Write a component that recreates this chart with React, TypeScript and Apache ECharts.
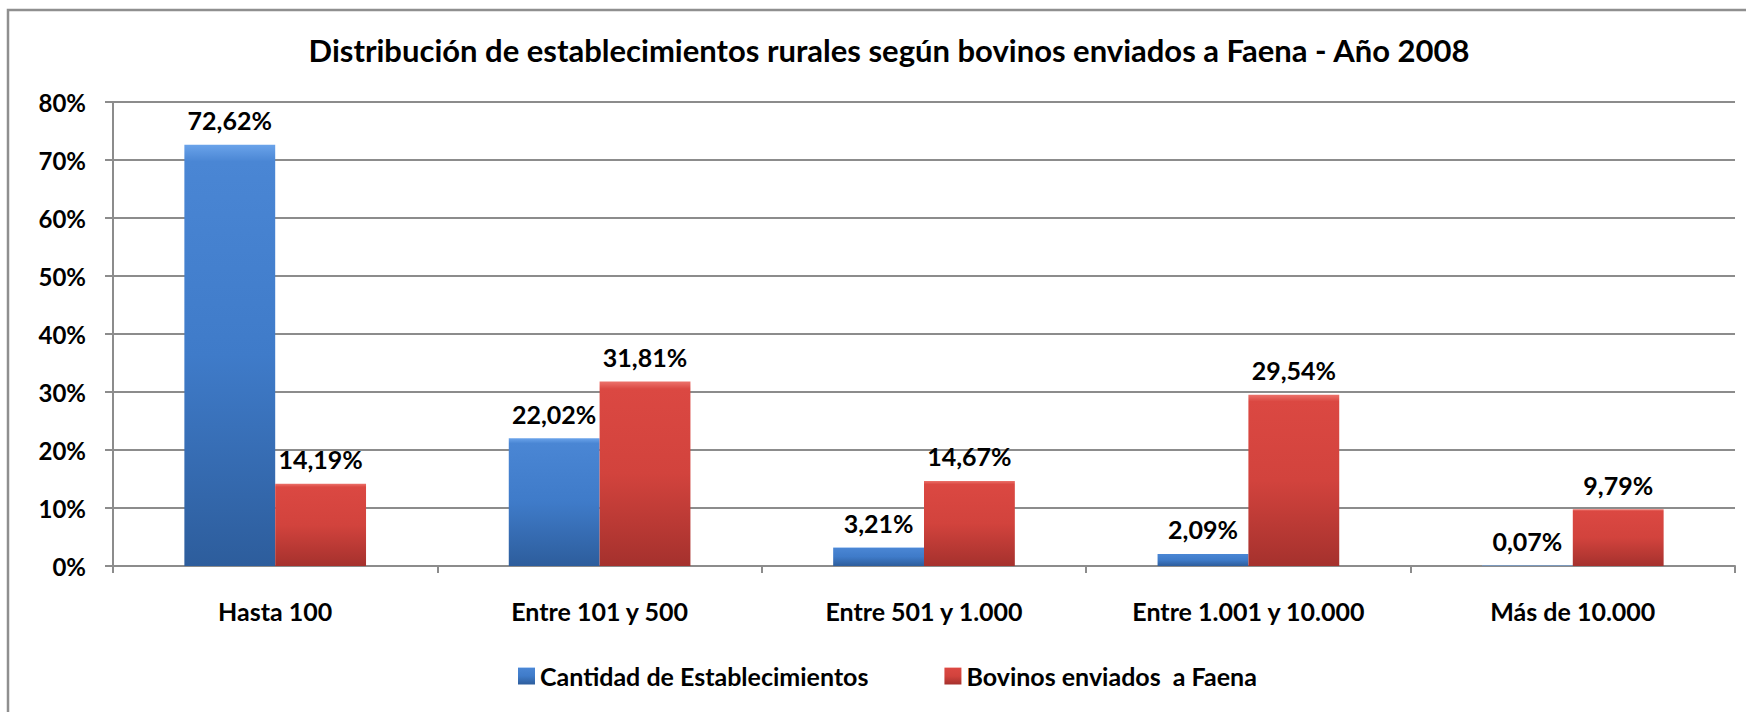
import React, { useEffect, useRef } from "react";
import * as echarts from "echarts";

const categories = ["Hasta 100", "Entre 101 y 500", "Entre 501 y 1.000", "Entre 1.001 y 10.000", "Más de 10.000"];
const establecimientos = [72.62, 22.02, 3.21, 2.09, 0.07];
const bovinos = [14.19, 31.81, 14.67, 29.54, 9.79];
const seriesNames = ["Cantidad de Establecimientos", "Bovinos enviados  a Faena"];
const titleText = "Distribución de establecimientos rurales según bovinos enviados a Faena - Año 2008";

const FONT = 'Lato, "Open Sans", "Noto Sans", sans-serif';

const fmt = (v: number) => v.toFixed(2).replace(".", ",") + "%";

const grad = (stops: [number, string][]) =>
  new echarts.graphic.LinearGradient(0, 0, 0, 1, stops.map(([offset, color]) => ({ offset, color })));

export default function App() {
  const ref = useRef<HTMLDivElement>(null);
  useEffect(() => {
    document.body.style.margin = "0";
    const chart = echarts.init(ref.current!, null, { renderer: "svg" });
    const labelStyle = {
      show: true,
      position: "top" as const,
      distance: 12,
      fontFamily: FONT,
      fontWeight: "bold" as const,
      fontSize: 25,
      color: "#000",
      formatter: (p: any) => fmt(p.value),
    };
    chart.setOption({
      animation: false,
      backgroundColor: "#fff",
      title: {
        text: titleText,
        left: 884,
        top: 29,
        textAlign: "center",
        textStyle: { fontFamily: FONT, fontWeight: "bold", fontSize: 31, color: "#000" },
      },
      graphic: [
        {
          type: "rect",
          shape: { x: 8, y: 10, width: 1800, height: 800 },
          style: { fill: "none", stroke: "#8f8f8f", lineWidth: 2.5 },
          silent: true,
        },
      ],
      legend: {
        data: seriesNames,
        left: 518,
        top: 663,
        padding: 0,
        itemWidth: 17,
        itemHeight: 17,
        itemGap: 76,
        icon: "rect",
        textStyle: { fontFamily: FONT, fontWeight: "bold", fontSize: 25, color: "#000", lineHeight: 26 },
      },
      grid: { left: 113, right: 11, top: 102, bottom: 146, containLabel: false },
      xAxis: {
        type: "category",
        data: categories,
        axisLine: { lineStyle: { color: "#8c8c8c", width: 2 } },
        axisTick: { show: true, length: 7, lineStyle: { color: "#8c8c8c", width: 2 } },
        axisLabel: { margin: 32, fontFamily: FONT, fontWeight: "bold", fontSize: 25, color: "#000" },
      },
      yAxis: {
        type: "value",
        min: 0,
        max: 80,
        interval: 10,
        axisLine: { show: true, lineStyle: { color: "#8c8c8c", width: 2 } },
        axisTick: { show: true, length: 8, lineStyle: { color: "#8c8c8c", width: 2 } },
        splitLine: { lineStyle: { color: "#8c8c8c", width: 2 } },
        axisLabel: {
          formatter: "{value}%",
          margin: 27,
          fontFamily: FONT,
          fontWeight: "bold",
          fontSize: 24,
          color: "#000",
        },
      },
      series: [
        {
          name: seriesNames[0],
          type: "bar",
          data: establecimientos,
          barGap: "0%",
          barCategoryGap: "44%",
          itemStyle: {
            color: grad([
              [0, "#6aa3ea"],
              [0.04, "#4a86d4"],
              [0.5, "#3f7bc9"],
              [1, "#2d5d9c"],
            ]),
          },
          label: labelStyle,
        },
        {
          name: seriesNames[1],
          type: "bar",
          data: bovinos,
          barGap: "0%",
          barCategoryGap: "44%",
          itemStyle: {
            color: grad([
              [0, "#ec726b"],
              [0.04, "#db4842"],
              [0.5, "#d2433d"],
              [1, "#a5312d"],
            ]),
          },
          label: labelStyle,
        },
      ],
    });
    return () => chart.dispose();
  }, []);
  return (
    <div
      ref={ref}
      style={{ position: "fixed", left: 0, top: 0, width: 1746, height: 712, background: "#fff" }}
    />
  );
}
